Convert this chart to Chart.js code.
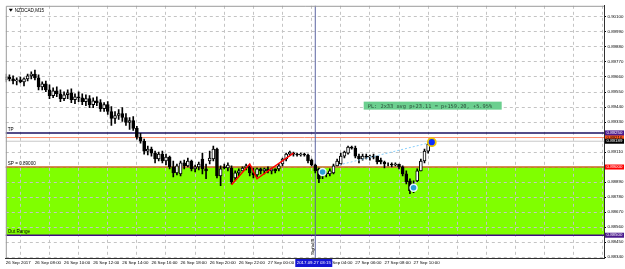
<!DOCTYPE html>
<html>
<head>
<meta charset="utf-8">
<script src="https://cdn.jsdelivr.net/npm/chart.js@4.4.1/dist/chart.umd.min.js"></script>
<style>
  html, body { margin: 0; padding: 0; background: #fff; }
  #wrap { width: 625px; height: 269px; }
</style>
</head>
<body>
<div id="wrap"><canvas id="chart" width="625" height="269"></canvas></div>
<script>
// NZDCAD M15, one label every 8 bars (2 hours)
const timeLabels = ['26 Sep 2017', '26 Sep 08:00', '26 Sep 10:00', '26 Sep 12:00', '26 Sep 14:00',
  '26 Sep 16:00', '26 Sep 18:00', '26 Sep 20:00', '26 Sep 22:00', '27 Sep 00:00',
  '27 Sep 02:00', '27 Sep 04:00', '27 Sep 06:00', '27 Sep 08:00', '27 Sep 10:00'];

const openP = [
  0.89639,0.89660,0.89646,0.89631,0.89639,0.89624,0.89646,0.89668,0.89682,0.89653,
  0.89588,0.89610,0.89566,0.89523,0.89559,0.89537,0.89501,0.89530,0.89544,0.89494,
  0.89515,0.89508,0.89479,0.89501,0.89457,0.89486,0.89472,0.89428,0.89457,0.89407,
  0.89356,0.89378,0.89392,0.89363,0.89327,0.89341,0.89283,0.89218,0.89189,0.89117,
  0.89131,0.89102,0.89059,0.89095,0.89044,0.89073,0.89001,0.88957,0.88950,0.89030,
  0.89008,0.89044,0.88986,0.89001,0.89059,0.88986,0.89044,0.89059,0.89131,0.88935,
  0.89001,0.88993,0.88993,0.88921,0.88957,0.88972,0.88993,0.89008,0.88957,0.88943,
  0.88986,0.88972,0.88986,0.88972,0.88986,0.88986,0.89022,0.89059,0.89095,0.89102,
  0.89095,0.89088,0.89095,0.89088,0.89051,0.89015,0.88986,0.88935,0.88957,0.88950,
  0.88957,0.89008,0.89022,0.89080,0.89102,0.89146,0.89138,0.89080,0.89059,0.89080,
  0.89073,0.89080,0.89080,0.89051,0.89037,0.89022,0.89022,0.89015,0.89022,0.89001,
  0.88950,0.88899,0.88827,0.88899,0.88972,0.89044,0.89117,0.89167];
const highP = [
  0.89682,0.89675,0.89668,0.89653,0.89660,0.89653,0.89682,0.89697,0.89711,0.89675,
  0.89624,0.89631,0.89602,0.89581,0.89588,0.89566,0.89552,0.89566,0.89573,0.89537,
  0.89552,0.89537,0.89530,0.89523,0.89508,0.89515,0.89494,0.89472,0.89479,0.89443,
  0.89407,0.89421,0.89436,0.89392,0.89363,0.89370,0.89298,0.89247,0.89204,0.89153,
  0.89146,0.89117,0.89109,0.89117,0.89095,0.89080,0.89044,0.89022,0.89044,0.89051,
  0.89066,0.89051,0.89015,0.89037,0.89102,0.89022,0.89117,0.89153,0.89138,0.89008,
  0.89022,0.89030,0.89008,0.88972,0.88986,0.89001,0.89022,0.89008,0.88993,0.88993,
  0.88993,0.88993,0.89001,0.88993,0.88986,0.89022,0.89066,0.89102,0.89117,0.89109,
  0.89102,0.89102,0.89102,0.89095,0.89059,0.89022,0.88993,0.88972,0.88964,0.88986,
  0.89022,0.89059,0.89102,0.89117,0.89153,0.89153,0.89153,0.89095,0.89095,0.89095,
  0.89088,0.89095,0.89080,0.89066,0.89044,0.89030,0.89030,0.89030,0.89022,0.89008,
  0.88972,0.88914,0.88899,0.88986,0.89059,0.89131,0.89175,0.89204];
const lowP = [
  0.89624,0.89631,0.89610,0.89602,0.89617,0.89595,0.89631,0.89646,0.89639,0.89566,
  0.89566,0.89552,0.89501,0.89508,0.89515,0.89479,0.89486,0.89501,0.89472,0.89465,
  0.89479,0.89457,0.89450,0.89436,0.89436,0.89450,0.89407,0.89407,0.89385,0.89305,
  0.89320,0.89349,0.89334,0.89305,0.89276,0.89269,0.89204,0.89175,0.89095,0.89088,
  0.89080,0.89030,0.89044,0.89030,0.89015,0.88986,0.88928,0.88943,0.88935,0.88986,
  0.89001,0.88972,0.88964,0.88979,0.88950,0.88914,0.89022,0.89044,0.88921,0.88863,
  0.88986,0.88972,0.88877,0.88906,0.88935,0.88972,0.88979,0.88935,0.88921,0.88928,
  0.88950,0.88950,0.88957,0.88950,0.88957,0.88972,0.89008,0.89044,0.89088,0.89080,
  0.89080,0.89080,0.89080,0.89030,0.89008,0.88957,0.88885,0.88914,0.88928,0.88935,
  0.88950,0.89008,0.89015,0.89066,0.89095,0.89131,0.89066,0.89030,0.89051,0.89059,
  0.89051,0.89059,0.89022,0.89022,0.88993,0.89008,0.89001,0.89008,0.88986,0.88935,
  0.88877,0.88805,0.88812,0.88892,0.88972,0.89030,0.89102,0.89153];
const closeP = [
  0.89660,0.89646,0.89631,0.89639,0.89624,0.89646,0.89668,0.89682,0.89653,0.89588,
  0.89610,0.89566,0.89523,0.89559,0.89537,0.89501,0.89530,0.89544,0.89494,0.89515,
  0.89508,0.89479,0.89501,0.89457,0.89486,0.89472,0.89428,0.89457,0.89407,0.89356,
  0.89378,0.89392,0.89363,0.89327,0.89341,0.89283,0.89218,0.89189,0.89117,0.89131,
  0.89102,0.89059,0.89095,0.89044,0.89073,0.89001,0.88957,0.89008,0.89030,0.89008,
  0.89044,0.88986,0.89001,0.89022,0.88986,0.88972,0.89066,0.89131,0.88935,0.88986,
  0.88993,0.89015,0.88892,0.88957,0.88972,0.88993,0.89008,0.88957,0.88943,0.88986,
  0.88972,0.88986,0.88972,0.88986,0.88972,0.89008,0.89059,0.89095,0.89109,0.89095,
  0.89088,0.89095,0.89088,0.89044,0.89015,0.88972,0.88914,0.88957,0.88950,0.88972,
  0.89008,0.89044,0.89080,0.89109,0.89146,0.89138,0.89080,0.89059,0.89080,0.89073,
  0.89080,0.89073,0.89037,0.89037,0.89022,0.89022,0.89015,0.89022,0.89001,0.88950,
  0.88892,0.88827,0.88863,0.88972,0.89044,0.89117,0.89167,0.89189];

const priceTicks = [0.88340, 0.88450, 0.88560, 0.88670, 0.88780, 0.88890, 0.89000, 0.89110, 0.89220,
  0.89330, 0.89440, 0.89550, 0.89660, 0.89770, 0.89880, 0.89990, 0.90100];

const tpLevel = 0.89250;
const entryLevel = 0.89216;
const bidLevel = 0.89189;
const spLevel = 0.89000;
const outLevel = 0.88500;

const zigzagX = [62, 67, 69, 79];
const zigzagY = [0.88870, 0.89022, 0.88914, 0.89102];
const trendX = [91.5, 117];
const trendY = [0.89015, 0.89182];
const signalX = [87, 112];
const signalY = [0.88964, 0.88848];
const lastX = 117;
const lastY = 0.89182;
const crossBar = 85;
const plText = 'PL: 2x33 avg p+23.11 = p+159.20, +5.95%';

const barIdx = openP.map((v, i) => i);
const hLine = (v) => [{x: -2, y: v}, {x: 168, y: v}];
const tinyFont = {family: 'Liberation Sans', size: 4.4};

const decor = {
  id: 'decor',
  afterDraw(chart) {
    const {ctx, chartArea: a, scales: {x, y}} = chart;
    ctx.save();
    // frame on the left and top
    ctx.strokeStyle = '#9a9a9a';
    ctx.lineWidth = 1;
    ctx.beginPath();
    ctx.moveTo(a.left + 0.5, a.bottom);
    ctx.lineTo(a.left + 0.5, a.top + 0.5);
    ctx.lineTo(a.right, a.top + 0.5);
    ctx.stroke();

    // symbol title
    ctx.fillStyle = '#000';
    ctx.beginPath();
    ctx.moveTo(a.left + 3, a.top + 3);
    ctx.lineTo(a.left + 7, a.top + 3);
    ctx.lineTo(a.left + 5, a.top + 6);
    ctx.fill();
    ctx.font = '4.6px "Liberation Sans"';
    ctx.textBaseline = 'alphabetic';
    ctx.fillText('NZDCAD,M15', a.left + 9, a.top + 6.5);

    // level captions
    ctx.fillText('TP', a.left + 2, y.getPixelForValue(tpLevel) - 2);
    ctx.fillText('SP = 0.89000', a.left + 2, y.getPixelForValue(spLevel) - 2);
    ctx.fillText('Out Range', a.left + 2, y.getPixelForValue(outLevel) - 2);

    // PL box
    const bx = x.getPixelForValue(98.3);
    const by = y.getPixelForValue(0.89450);
    ctx.fillStyle = '#6bcf8f';
    ctx.fillRect(bx, by - 4, 138, 8);
    ctx.fillStyle = '#2a4a38';
    ctx.font = '5.3px "DejaVu Sans Mono"';
    ctx.textBaseline = 'middle';
    ctx.fillText(plText, bx + 4, by + 0.5);

    // price tags on the axis
    const tags = [
      [entryLevel, '#ff5a1e', '#000'],
      [bidLevel, '#000000', '#fff'],
      [tpLevel, '#4b1a8c', '#fff'],
      [spLevel, '#ff0000', '#fff'],
      [outLevel, '#4b1a8c', '#fff']
    ];
    ctx.font = '4.4px "Liberation Sans"';
    tags.forEach(([v, bg, fg]) => {
      const py = y.getPixelForValue(v);
      ctx.fillStyle = bg;
      ctx.fillRect(a.right + 1, py - 2.5, 19, 5);
      ctx.fillStyle = fg;
      ctx.fillText(v.toFixed(5), a.right + 2.5, py);
    });

    // crosshair time tag and vertical caption
    const xv = x.getPixelForValue(crossBar);
    ctx.fillStyle = '#1414d2';
    ctx.fillRect(xv - 20, a.bottom + 1, 37, 8);
    ctx.fillStyle = '#fff';
    ctx.textAlign = 'center';
    ctx.fillText('2017.09.27 03:15', xv - 1.5, a.bottom + 5);
    ctx.fillStyle = '#000';
    ctx.textAlign = 'left';
    ctx.translate(xv - 1.5, a.bottom - 3);
    ctx.rotate(-Math.PI / 2);
    ctx.textBaseline = 'alphabetic';
    ctx.fillText('Signal B', 0, 0);
    ctx.restore();
  }
};

new Chart(document.getElementById('chart'), {
  type: 'bar',
  data: {
    datasets: [
      {
        type: 'line', label: 'range', order: 20,
        data: hLine(spLevel), fill: {value: outLevel},
        backgroundColor: '#80ff00', borderWidth: 0, pointRadius: 0
      },
      {type: 'line', label: 'tp', order: 8, data: hLine(tpLevel), borderColor: '#1c1060', borderWidth: 1.5, pointRadius: 0},
      {type: 'line', label: 'entry', order: 8, data: hLine(entryLevel), borderColor: '#ff8a6a', borderWidth: 1, pointRadius: 0},
      {type: 'line', label: 'bid', order: 8, data: hLine(bidLevel), borderColor: '#c8c8c8', borderWidth: 1, pointRadius: 0},
      {type: 'line', label: 'sp', order: 8, data: hLine(spLevel), borderColor: '#c8641e', borderWidth: 1.5, pointRadius: 0},
      {type: 'line', label: 'out', order: 8, data: hLine(outLevel), borderColor: '#3c0a80', borderWidth: 1.5, pointRadius: 0},
      {
        type: 'line', label: 'cross', order: 7,
        data: [{x: crossBar, y: 0.8820}, {x: crossBar, y: 0.9030}],
        borderColor: '#5a64a0', borderWidth: 1, pointRadius: 0
      },
      {
        label: 'wick', order: 4, grouped: false, barThickness: 1,
        data: barIdx.map(i => ({x: i, y: [lowP[i], highP[i]]})),
        backgroundColor: '#000'
      },
      {
        label: 'body', order: 3, grouped: false, barThickness: 3,
        data: barIdx.map(i => ({x: i, y: [openP[i], closeP[i]]})),
        backgroundColor: barIdx.map(i => closeP[i] >= openP[i] ? '#ffffff' : '#000000'),
        borderColor: '#000', borderWidth: 1, borderSkipped: false
      },
      {
        type: 'line', label: 'zigzag', order: 2,
        data: zigzagX.map((v, i) => ({x: v, y: zigzagY[i]})),
        borderColor: '#ff0000', borderWidth: 1.5, pointRadius: 0
      },
      {
        type: 'line', label: 'trend', order: 2,
        data: trendX.map((v, i) => ({x: v, y: trendY[i]})),
        borderColor: '#87cefa', borderWidth: 1, borderDash: [2, 2], pointRadius: 0
      },
      {
        type: 'line', label: 'signals', order: 1, showLine: false,
        data: signalX.map((v, i) => ({x: v, y: signalY[i]})),
        pointRadius: 3.5, pointBackgroundColor: '#2a9fd6', pointBorderColor: '#e6f8ff', pointBorderWidth: 1.5
      },
      {
        type: 'line', label: 'last', order: 0, showLine: false,
        data: [{x: lastX, y: lastY}],
        pointRadius: 4, pointBackgroundColor: '#0a2cff', pointBorderColor: '#f0c800', pointBorderWidth: 1.8
      }
    ]
  },
  options: {
    responsive: false,
    animation: false,
    devicePixelRatio: 1,
    layout: {padding: {left: 2, top: 3, right: 0, bottom: 0}},
    plugins: {
      legend: {display: false},
      tooltip: {enabled: false},
      filler: {drawTime: 'beforeDraw'}
    },
    scales: {
      x: {
        type: 'linear', min: 0, max: 164.3, offset: false,
        grid: {offset: true, color: '#c4c4c4', lineWidth: 1, drawTicks: false},
        border: {color: '#303030', dash: [3, 3]},
        afterBuildTicks: s => {
          const t = [];
          for (let v = 0; v <= 160; v += 8) t.push({value: v});
          s.ticks = t;
        },
        afterFit: s => { s.height = 11; },
        ticks: {
          autoSkip: false, maxRotation: 0, minRotation: 0, align: 'start', padding: 2.5,
          color: '#000', font: tinyFont,
          callback: v => timeLabels[v / 8] || ''
        }
      },
      y: {
        position: 'right', min: 0.88333, max: 0.90182,
        grid: {color: '#c4c4c4', lineWidth: 1, tickLength: 2, tickColor: '#000'},
        border: {color: '#303030', dash: [3, 3]},
        afterBuildTicks: s => { s.ticks = priceTicks.map(v => ({value: v})); },
        afterFit: s => { s.width = 21; },
        ticks: {padding: 1.5, color: '#000', font: tinyFont, callback: v => v.toFixed(5)}
      }
    }
  },
  plugins: [decor]
});
</script>
</body>
</html>
